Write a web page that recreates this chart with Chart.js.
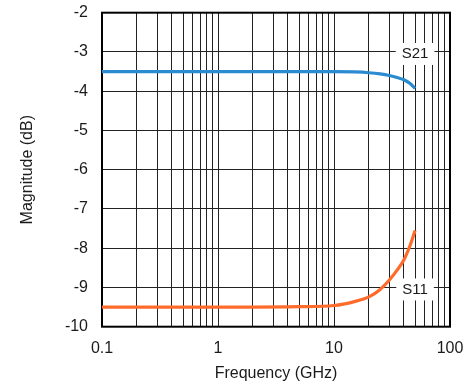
<!DOCTYPE html>
<html>
<head>
<meta charset="utf-8">
<script src="https://cdn.jsdelivr.net/npm/chart.js@4/dist/chart.umd.min.js"></script>
<style>
  html, body { margin: 0; padding: 0; background: #fff; }
  #wrap { width: 469px; height: 381px; position: relative; }
</style>
</head>
<body>
<div id="wrap"><canvas id="c" width="469" height="381"></canvas></div>
<script>
// Frequency points (GHz)
const freqGHz = [0.1, 0.2, 0.5, 1, 2, 5, 10, 15, 20, 25, 30, 35, 40, 45, 50];
// Insertion loss S21 (dB)
const s21 = [-3.5, -3.5, -3.5, -3.5, -3.5, -3.5, -3.5, -3.51, -3.53, -3.56, -3.6, -3.65, -3.71, -3.8, -3.93];
// Return loss S11 (dB)
const s11 = [-9.5, -9.5, -9.5, -9.5, -9.5, -9.49, -9.46, -9.36, -9.24, -9.05, -8.81, -8.56, -8.3, -7.95, -7.55];

// Log-axis grid positions and labelled decades
const xGridTicks = [0.1,0.2,0.3,0.4,0.5,0.6,0.7,0.8,0.9,1,2,3,4,5,6,7,8,9,10,20,30,40,50,60,70,80,90,100];
const xTickLabels = { 0.1: '0.1', 1: '1', 10: '10', 100: '100' };
const yMin = -10, yMax = -2;

// Series tags placed on the plot
const seriesTags = [
  { text: 'S21', x: 50, y: -3 },
  { text: 'S11', x: 50, y: -9 }
];

const FONT = "'Liberation Sans', Arial, sans-serif";
const TEXT = '#1a1a1a';

const frame = {
  id: 'frame',
  beforeDatasetsDraw(chart) {
    const { ctx, chartArea: a } = chart;
    ctx.save();
    ctx.strokeStyle = '#000';
    ctx.lineWidth = 2;
    ctx.strokeRect(a.left, a.top, a.right - a.left, a.bottom - a.top);
    ctx.restore();
  }
};

const tags = {
  id: 'tags',
  afterDatasetsDraw(chart) {
    const { ctx } = chart;
    const xs = chart.scales.x, ys = chart.scales.y;
    ctx.save();
    ctx.font = '15px ' + FONT;
    ctx.textAlign = 'center';
    ctx.textBaseline = 'middle';
    seriesTags.forEach(t => {
      const px = xs.getPixelForValue(t.x);
      const py = ys.getPixelForValue(t.y) + 2;
      const w = ctx.measureText(t.text).width + 12;
      const h = 22;
      ctx.fillStyle = '#fff';
      ctx.fillRect(px - w / 2, py - h / 2, w, h);
      ctx.fillStyle = TEXT;
      ctx.fillText(t.text, px, py);
    });
    ctx.restore();
  }
};

new Chart(document.getElementById('c'), {
  type: 'line',
  data: {
    labels: freqGHz,
    datasets: [
      {
        label: 'S21',
        data: freqGHz.map((f, i) => ({ x: f, y: s21[i] })),
        borderColor: '#2b8bd0',
        borderWidth: 3.2,
        pointRadius: 0,
        cubicInterpolationMode: 'monotone',
        fill: false
      },
      {
        label: 'S11',
        data: freqGHz.map((f, i) => ({ x: f, y: s11[i] })),
        borderColor: '#ff6b2b',
        borderWidth: 3.2,
        pointRadius: 0,
        cubicInterpolationMode: 'monotone',
        fill: false
      }
    ]
  },
  options: {
    responsive: false,
    animation: false,
    layout: { padding: { top: 12.7, right: 19, left: 0, bottom: 0 } },
    plugins: { legend: { display: false }, tooltip: { enabled: false } },
    scales: {
      x: {
        type: 'logarithmic',
        min: 0.1,
        max: 100,
        afterBuildTicks(scale) {
          scale.ticks = xGridTicks.map(v => ({ value: v }));
        },
        afterFit(scale) {
          scale.height = 54.3;
          scale.paddingLeft = 0;
          scale.paddingRight = 0;
        },
        grid: { color: '#222', lineWidth: 1, drawTicks: false },
        border: { display: false },
        ticks: {
          autoSkip: false,
          maxRotation: 0,
          padding: 12,
          color: TEXT,
          font: { family: FONT, size: 16 },
          callback: v => xTickLabels[v] || ''
        },
        title: {
          display: true,
          text: 'Frequency (GHz)',
          color: TEXT,
          font: { family: FONT, size: 16 },
          padding: { top: 0, bottom: -2 }
        }
      },
      y: {
        type: 'linear',
        min: yMin,
        max: yMax,
        afterFit(scale) {
          scale.width = 102;
          scale.paddingTop = 0;
          scale.paddingBottom = 0;
        },
        grid: { color: '#222', lineWidth: 1, drawTicks: false },
        border: { display: false },
        ticks: {
          stepSize: 1,
          padding: 14,
          color: TEXT,
          font: { family: FONT, size: 16 }
        },
        title: {
          display: true,
          text: 'Magnitude (dB)',
          color: TEXT,
          font: { family: FONT, size: 16 },
          padding: { top: 18, bottom: 0 }
        }
      }
    }
  },
  plugins: [frame, tags]
});
</script>
</body>
</html>
